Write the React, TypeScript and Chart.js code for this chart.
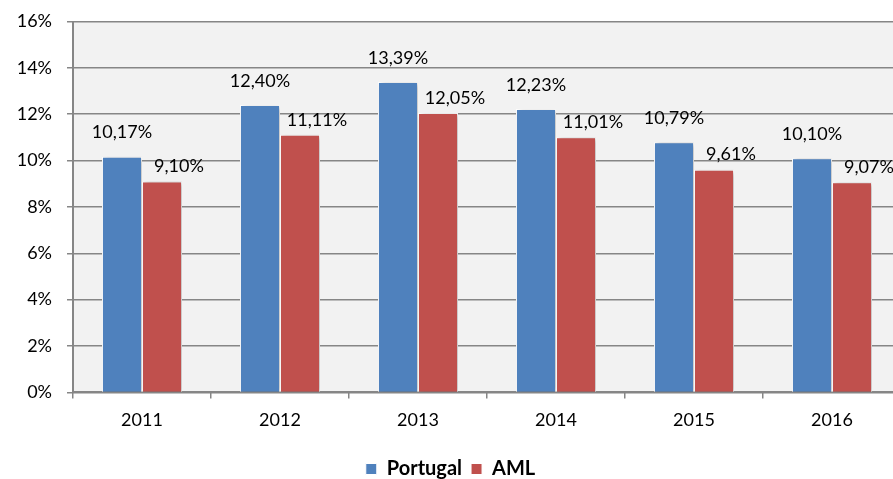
import React, { useEffect, useRef } from "react";
import { Chart, registerables } from "chart.js";

Chart.register(...registerables);

const categories = ["2011", "2012", "2013", "2014", "2015", "2016"];
const portugal = [10.17, 12.4, 13.39, 12.23, 10.79, 10.1];
const aml = [9.1, 11.11, 12.05, 11.01, 9.61, 9.07];
const seriesNames = ["Portugal", "AML"];
const yTicks = [0, 2, 4, 6, 8, 10, 12, 14, 16];

const FONT = "Lato, 'Open Sans', sans-serif";
const GRID = "#868686";

const fmt = (v: number) => v.toFixed(2).replace(".", ",") + "%";

const plotBg = {
  id: "plotBg",
  beforeDraw(chart: any) {
    const { ctx, chartArea } = chart;
    ctx.save();
    ctx.fillStyle = "#f2f2f2";
    ctx.fillRect(chartArea.left, chartArea.top, chartArea.right - chartArea.left, chartArea.bottom - chartArea.top);
    ctx.restore();
  },
};

const barShadow = {
  id: "barShadow",
  beforeDatasetsDraw(chart: any) {
    const ctx = chart.ctx;
    ctx.save();
    ctx.shadowColor = "rgba(0,0,0,0.3)";
    ctx.shadowBlur = 5;
    ctx.shadowOffsetX = 2;
    ctx.shadowOffsetY = 1;
  },
  afterDatasetsDraw(chart: any) {
    chart.ctx.restore();
  },
};

const dataLabels = {
  id: "dataLabels",
  afterDatasetsDraw(chart: any) {
    const ctx = chart.ctx;
    ctx.save();
    ctx.font = `18px ${FONT}`;
    ctx.fillStyle = "#000";
    ctx.textAlign = "center";
    ctx.textBaseline = "middle";
    chart.data.datasets.forEach((ds: any, di: number) => {
      const meta = chart.getDatasetMeta(di);
      meta.data.forEach((el: any, i: number) => {
        const dx = di === 0 ? 0 : 17;
        const dy = di === 0 ? -24 : -15;
        ctx.fillText(fmt(ds.data[i]), el.x + dx, el.y + dy);
      });
    });
    ctx.restore();
  },
};

export default function App() {
  const ref = useRef<HTMLCanvasElement>(null);
  useEffect(() => {
    if (!ref.current) return;
    const chart = new Chart(ref.current, {
      type: "bar",
      data: {
        labels: categories,
        datasets: [
          {
            label: seriesNames[0],
            data: portugal,
            backgroundColor: "#4f81bd",
            borderColor: "#ffffff",
            borderWidth: 1,
            categoryPercentage: 0.58,
            barPercentage: 1,
          },
          {
            label: seriesNames[1],
            data: aml,
            backgroundColor: "#c0504d",
            borderColor: "#ffffff",
            borderWidth: 1,
            categoryPercentage: 0.58,
            barPercentage: 1,
          },
        ],
      },
      options: {
        responsive: false,
        animation: false,
        devicePixelRatio: 1,
        layout: { padding: { top: 21.5, right: 9, left: 0, bottom: -10 } },
        plugins: {
          tooltip: { enabled: false },
          legend: {
            position: "bottom",
            labels: {
              boxWidth: 11,
              boxHeight: 11,
              padding: 9,
              color: "#000",
              font: { family: FONT, size: 20, weight: "bold" },
            },
          },
        },
        scales: {
          x: {
            grid: {
              display: true,
              drawOnChartArea: false,
              drawTicks: true,
              tickLength: 6,
              color: GRID,
              lineWidth: 1.5,
              offset: true,
            },
            border: { display: true, color: GRID, width: 2 },
            ticks: {
              color: "#000",
              padding: 11,
              font: { family: FONT, size: 18 },
            },
            afterFit: (scale: any) => {
              scale.height += 8;
            },
          },
          y: {
            min: 0,
            max: 16,
            afterBuildTicks: (scale: any) => {
              scale.ticks = yTicks.map((v) => ({ value: v }));
            },
            afterFit: (scale: any) => {
              scale.width = 73;
              scale.paddingTop = 0;
              scale.paddingBottom = 0;
            },
            grid: {
              color: GRID,
              lineWidth: 1.5,
              tickLength: 6,
              drawTicks: true,
            },
            border: { display: true, color: GRID, width: 2 },
            ticks: {
              color: "#000",
              padding: 15,
              font: { family: FONT, size: 18 },
              callback: (v: any) => v + "%",
            },
          },
        },
      },
      plugins: [plotBg, barShadow, dataLabels],
    } as any);
    return () => chart.destroy();
  }, []);
  return (
    <div
      style={{
        position: "fixed",
        left: 0,
        top: 0,
        width: 893,
        height: 479,
        overflow: "hidden",
        background: "#fff",
      }}
    >
      <canvas ref={ref} width={910} height={479} style={{ width: 910, height: 479, display: "block" }} />
    </div>
  );
}
